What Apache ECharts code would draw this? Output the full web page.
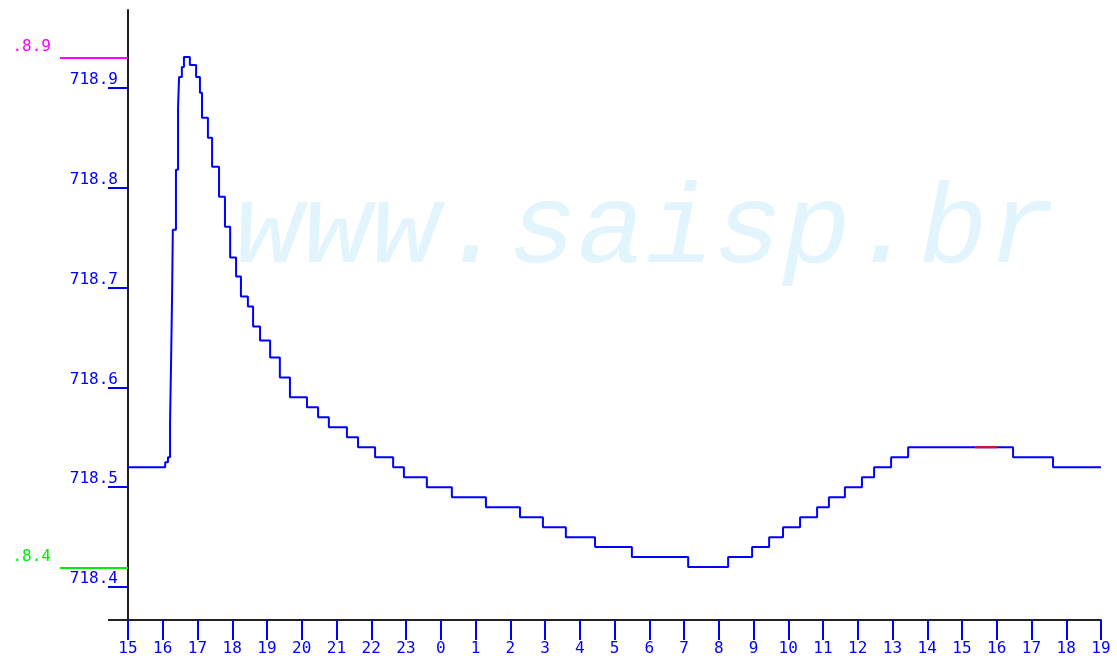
<!DOCTYPE html>
<html><head><meta charset="utf-8">
<script src="https://cdn.jsdelivr.net/npm/echarts@6/dist/echarts.min.js"></script>
<style>html,body{margin:0;padding:0;background:#fff}#c{width:1117px;height:662px}</style>
</head><body><div id="c"></div>
<script>
// hours after 15:00 of the first day
var hours = [0,1.07,1.15,1.21,1.24,1.27,1.29,1.38,1.44,1.47,
  1.55,1.61,1.78,1.96,2.07,2.13,2.30,2.42,2.62,2.79,
  2.94,3.11,3.25,3.45,3.60,3.80,4.09,4.37,4.66,5.15,
  5.47,5.78,6.30,6.62,7.11,7.63,7.94,8.60,9.32,10.30,
  11.28,11.94,12.60,13.44,14.50,16.12,17.27,17.96,18.45,18.85,
  19.34,19.83,20.17,20.63,21.12,21.47,21.96,22.45,25.47,26.62,28.0];
var levels = [718.52,718.525,718.53,718.564,718.627,718.695,718.758,718.818,718.880,718.911,
  718.921,718.931,718.923,718.911,718.895,718.870,718.850,718.821,718.791,718.761,
  718.730,718.711,718.691,718.681,718.661,718.647,718.630,718.610,718.590,718.58,
  718.57,718.56,718.55,718.54,718.53,718.52,718.51,718.50,718.49,718.48,
  718.47,718.46,718.45,718.44,718.43,718.42,718.43,718.44,718.45,718.46,
  718.47,718.48,718.49,718.50,718.51,718.52,718.53,718.54,718.53,718.52,718.52];
var redHours = [24.37, 25.01];
var redLevels = [718.54, 718.54];
var yTicks = [718.4, 718.5, 718.6, 718.7, 718.8, 718.9];
var startHour = 15;
var alarmHigh = 718.93, alarmHighLabel = '.8.9';
var alarmLow = 718.419, alarmLowLabel = '.8.4';
var watermark = 'www.saisp.br';

var mainData = hours.map(function(h,i){return [h, levels[i]];});
var redData = redHours.map(function(h,i){return [h, redLevels[i]];});
var BLUE = '#0000ff';
var FONT = 'DejaVu Sans Mono';

var chart = echarts.init(document.getElementById('c'), null, {renderer:'canvas'});
chart.setOption({
  animation: false,
  backgroundColor: '#ffffff',
  grid: {left: 128, right: 16, top: 10, bottom: 42, containLabel: false},
  graphic: [{
    id: 'wm', type: 'text', z: 0, left: 235, top: 175, silent: true,
    style: {text: watermark, fill: '#e2f5fd', font: 'italic 114px "Liberation Mono"'}
  }],
  xAxis: {
    type: 'value', min: 0, max: 28, interval: 1,
    axisLine: {show: true, lineStyle: {color: '#222', width: 2}},
    axisTick: {show: true, length: 20, lineStyle: {color: BLUE, width: 2}},
    axisLabel: {color: BLUE, fontFamily: FONT, fontSize: 16, margin: 21,
      showMinLabel: true, showMaxLabel: true,
      formatter: function(v){ return String((startHour + Math.round(v)) % 24); }},
    splitLine: {show: false}
  },
  yAxis: {
    type: 'value', min: 718.367, max: 718.978,
    axisLine: {show: true, lineStyle: {color: '#222', width: 2}},
    axisTick: {show: true, length: 20, customValues: yTicks, lineStyle: {color: BLUE, width: 2}},
    axisLabel: {color: BLUE, fontFamily: FONT, fontSize: 16, margin: 10, verticalAlign: 'bottom',
      customValues: yTicks, formatter: function(v){ return v.toFixed(1); }},
    splitLine: {show: false}
  },
  series: [{
    type: 'line', data: mainData, step: 'end', symbol: 'none', z: 3,
    lineStyle: {color: BLUE, width: 2}
  }, {
    type: 'line', data: redData, symbol: 'none', z: 4,
    lineStyle: {color: '#ff0000', width: 2}
  }]
});

var x0 = chart.convertToPixel({xAxisIndex: 0}, 0);
var yBase = chart.convertToPixel({yAxisIndex: 0}, 718.367);
function alarm(id, v, label, color) {
  var y = chart.convertToPixel({yAxisIndex: 0}, v);
  return [{
    id: id + 'l', type: 'line', z: 5, silent: true,
    shape: {x1: x0 - 68, y1: y, x2: x0, y2: y},
    style: {stroke: color, lineWidth: 2}
  }, {
    id: id + 't', type: 'text', z: 5, silent: true, x: x0 - 77, y: y - 3,
    style: {text: label, fill: color, font: '16px "' + FONT + '"', textAlign: 'right', textVerticalAlign: 'bottom'}
  }];
}
var extra = alarm('hi', alarmHigh, alarmHighLabel, '#ff00ff').concat(alarm('lo', alarmLow, alarmLowLabel, '#00ee00'));
extra.push({id: 'xext', type: 'line', z: 5, silent: true,
  shape: {x1: x0 - 20, y1: yBase, x2: x0, y2: yBase}, style: {stroke: '#222', lineWidth: 2}});
chart.setOption({graphic: extra});
</script></body></html>
